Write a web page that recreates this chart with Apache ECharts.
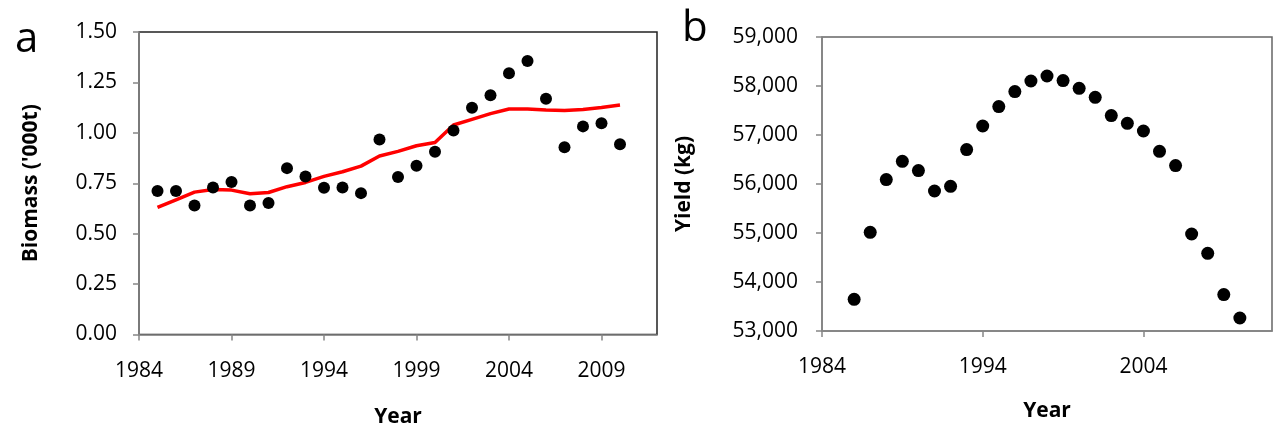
<!DOCTYPE html>
<html>
<head>
<meta charset="utf-8">
<script src="https://cdn.jsdelivr.net/npm/echarts@6/dist/echarts.min.js"></script>
<style>
html,body{margin:0;padding:0;background:#fff;}
#chart{width:1274px;height:426px;}
</style>
</head>
<body>
<div id="chart"></div>
<script>
// Panel a: biomass ('000 t)
const yearsA = [1985,1986,1987,1988,1989,1990,1991,1992,1993,1994,1995,1996,1997,1998,1999,2000,2001,2002,2003,2004,2005,2006,2007,2008,2009,2010];
const biomass = [0.711,0.711,0.640,0.729,0.756,0.640,0.652,0.825,0.784,0.728,0.729,0.701,0.967,0.781,0.837,0.906,1.012,1.124,1.186,1.295,1.356,1.169,0.928,1.032,1.047,0.943];
const biomassTrend = [0.630,0.668,0.706,0.719,0.716,0.698,0.704,0.733,0.754,0.784,0.807,0.835,0.885,0.908,0.936,0.952,1.039,1.067,1.095,1.118,1.118,1.113,1.111,1.116,1.126,1.138];
const ticksA = [1984,1989,1994,1999,2004,2009];

// Panel b: yield (kg)
const yearsB = [1986,1987,1988,1989,1990,1991,1992,1993,1994,1995,1996,1997,1998,1999,2000,2001,2002,2003,2004,2005,2006,2007,2008,2009,2010];
const yieldKg = [53647,55014,56090,56463,56273,55857,55953,56702,57184,57580,57886,58102,58204,58110,57953,57769,57396,57239,57082,56667,56376,54980,54586,53743,53265];
const ticksB = [1984,1994,2004];

const FONT = '"Open Sans", "Liberation Sans", sans-serif';
const axisGray = '#868686';
const labelStyle = {color:'#000', fontFamily:FONT, fontSize:21};
const nameStyle = {color:'#000', fontFamily:FONT, fontSize:21, fontWeight:'bold'};

const chart = echarts.init(document.getElementById('chart'), null, {renderer:'canvas'});
chart.setOption({
  animation:false,
  backgroundColor:'#fff',
  title:[
    {text:'a', left:10, top:14, textStyle:{fontFamily:FONT, fontSize:42, fontWeight:'normal', color:'#000'}},
    {text:'b', left:677, top:3, textStyle:{fontFamily:FONT, fontSize:42, fontWeight:'normal', color:'#000'}}
  ],
  grid:[
    {left:139, top:32, width:518, height:302.5, show:true, borderColor:'#222', borderWidth:1.5, containLabel:false, outerBoundsMode:'none'},
    {left:822, top:37, width:450, height:294, show:true, borderColor:'#666', borderWidth:1.5, containLabel:false, outerBoundsMode:'none'}
  ],
  xAxis:[
    {type:'value', gridIndex:0, min:1984, max:2012, interval:5,
     name:'Year', nameLocation:'middle', nameGap:72, nameTextStyle:nameStyle,
     axisLine:{show:true, lineStyle:{color:axisGray, width:1.5}},
     axisTick:{show:true, inside:false, length:6, lineStyle:{color:axisGray, width:1.5}, customValues:ticksA},
     axisLabel:{...labelStyle, margin:26, customValues:ticksA, formatter:v=>String(v)},
     splitLine:{show:false}},
    {type:'value', gridIndex:1, min:1984, max:2012, interval:10,
     name:'Year', nameLocation:'middle', nameGap:70, nameTextStyle:nameStyle,
     axisLine:{show:true, lineStyle:{color:axisGray, width:1.5}},
     axisTick:{show:true, inside:false, length:6, lineStyle:{color:axisGray, width:1.5}, customValues:ticksB},
     axisLabel:{...labelStyle, margin:26, customValues:ticksB, formatter:v=>String(v)},
     splitLine:{show:false}}
  ],
  yAxis:[
    {type:'value', gridIndex:0, min:0, max:1.5, interval:0.25,
     name:"Biomass ('000t)", nameLocation:'middle', nameGap:97, nameTextStyle:nameStyle,
     axisLine:{show:true, lineStyle:{color:axisGray, width:1.5}},
     axisTick:{show:true, inside:false, length:6, lineStyle:{color:axisGray, width:1.5}},
     axisLabel:{...labelStyle, margin:22, formatter:v=>v.toFixed(2)},
     splitLine:{show:false}},
    {type:'value', gridIndex:1, min:53000, max:59000, interval:1000,
     name:'Yield (kg)', nameLocation:'middle', nameGap:127, nameTextStyle:nameStyle,
     axisLine:{show:true, lineStyle:{color:axisGray, width:1.5}},
     axisTick:{show:true, inside:false, length:6, lineStyle:{color:axisGray, width:1.5}},
     axisLabel:{...labelStyle, margin:24, formatter:v=>v.toLocaleString('en-US')},
     splitLine:{show:false}}
  ],
  series:[
    {type:'scatter', xAxisIndex:0, yAxisIndex:0, symbol:'circle', symbolSize:12,
     itemStyle:{color:'#000', opacity:1}, data:yearsA.map((y,i)=>[y, biomass[i]]), z:3},
    {type:'line', xAxisIndex:0, yAxisIndex:0, showSymbol:false, symbol:'none',
     lineStyle:{color:'#ff0000', width:3.5}, data:yearsA.map((y,i)=>[y, biomassTrend[i]]), z:2},
    {type:'scatter', xAxisIndex:1, yAxisIndex:1, symbol:'circle', symbolSize:13,
     itemStyle:{color:'#000', opacity:1}, data:yearsB.map((y,i)=>[y, yieldKg[i]]), z:3}
  ]
});
</script>
</body>
</html>
